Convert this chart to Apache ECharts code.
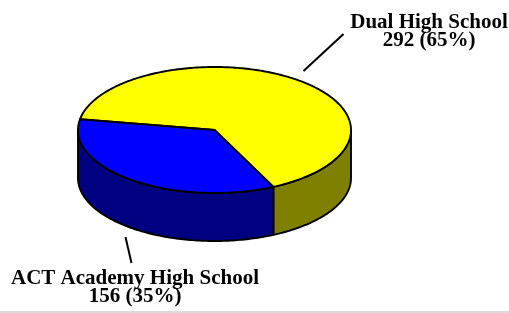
<!DOCTYPE html>
<html><head><meta charset="utf-8">
<script src="https://cdn.jsdelivr.net/npm/echarts@6/dist/echarts.min.js"></script>
<style>html,body{margin:0;padding:0;background:#fff}#c{width:509px;height:313px}</style>
</head><body><div id="c"></div>
<script>
// ---- data ----
const categories = ['Dual High School', 'ACT Academy High School'];
const values = [292, 156];
const topColors = ['#ffff00', '#0000ff'];
const sideColors = ['#808000', '#000080'];

// ---- layout ----
const CX = 214.5, CY = 130, RX = 136.5, RY = 63, DEPTH = 48, START = 170.2; // clockwise from START (deg)
const GAP = 11;
const labelLayout = [
  { dx: 40, dy: -37, tx: 429, ty: 14 },
  { dx: 6, dy: 26, tx: 135, ty: 270 }
];

const total = values.reduce((a, b) => a + b, 0);
let cur = START;
const slices = values.map(v => {
  const span = v / total * 360;
  let a = cur - span, b = cur;
  cur -= span;
  const k = Math.floor(a / 360);
  a -= k * 360; b -= k * 360;
  return { a, b };
});
const rad = d => d * Math.PI / 180;
const pt = (t, dy) => [CX + RX * Math.cos(rad(t)), CY - RY * Math.sin(rad(t)) + (dy || 0)];
function arc(a, b, dy) {
  const n = Math.max(2, Math.ceil(Math.abs(b - a)));
  const out = [];
  for (let i = 0; i <= n; i++) out.push(pt(a + (b - a) * i / n, dy));
  return out;
}
const strokeStyle = { stroke: '#000', lineWidth: 1.9, lineJoin: 'round' };

function renderWall(params, api) {
  const i = params.dataIndex, s = slices[i];
  const children = [];
  [[180, 360], [540, 720]].forEach(r => {
    const lo = Math.max(s.a, r[0]), hi = Math.min(s.b, r[1]);
    if (lo < hi) {
      const pts = arc(lo, hi, 0).concat(arc(hi, lo, DEPTH));
      children.push({ type: 'polygon', shape: { points: pts }, style: Object.assign({ fill: sideColors[i] }, strokeStyle) });
    }
  });
  return { type: 'group', children };
}
function renderTop(params, api) {
  const i = params.dataIndex, s = slices[i];
  const pts = [[CX, CY]].concat(arc(s.a, s.b, 0));
  const mid = (s.a + s.b) / 2;
  const sn = Math.sin(rad(mid)), cs = Math.cos(rad(mid));
  const ax = CX + (RX + GAP) * cs, ay = CY - (RY + GAP) * sn + (sn < 0 ? DEPTH : 0);
  const L = labelLayout[i];
  const pct = Math.round(api.value(0) / total * 100);
  return {
    type: 'group', children: [
      { type: 'polygon', shape: { points: pts }, style: Object.assign({ fill: topColors[i] }, strokeStyle) },
      { type: 'line', shape: { x1: ax, y1: ay, x2: ax + L.dx, y2: ay + L.dy }, style: { stroke: '#000', lineWidth: 2 } },
      { type: 'text', style: { text: categories[i] + '\n' + api.value(0) + ' (' + pct + '%)', x: L.tx, y: L.ty,
        align: 'center', verticalAlign: 'top', lineHeight: 18, fill: '#000',
        font: 'bold 21px "Liberation Serif", "Times New Roman", serif' } }
    ]
  };
}
const data = values.map((v, i) => ({ value: [v, i] }));
const chart = echarts.init(document.getElementById('c'), null, { renderer: 'canvas' });
chart.setOption({
  animation: false,
  backgroundColor: '#ffffff',
  graphic: [{ type: 'rect', shape: { x: 0, y: 311, width: 509, height: 2 }, style: { fill: '#dcdcdc' } }],
  series: [
    { type: 'custom', coordinateSystem: 'none', renderItem: renderWall, data: data, z: 1, silent: true },
    { type: 'custom', coordinateSystem: 'none', renderItem: renderTop, data: data, z: 2, silent: true }
  ]
});
</script></body></html>
